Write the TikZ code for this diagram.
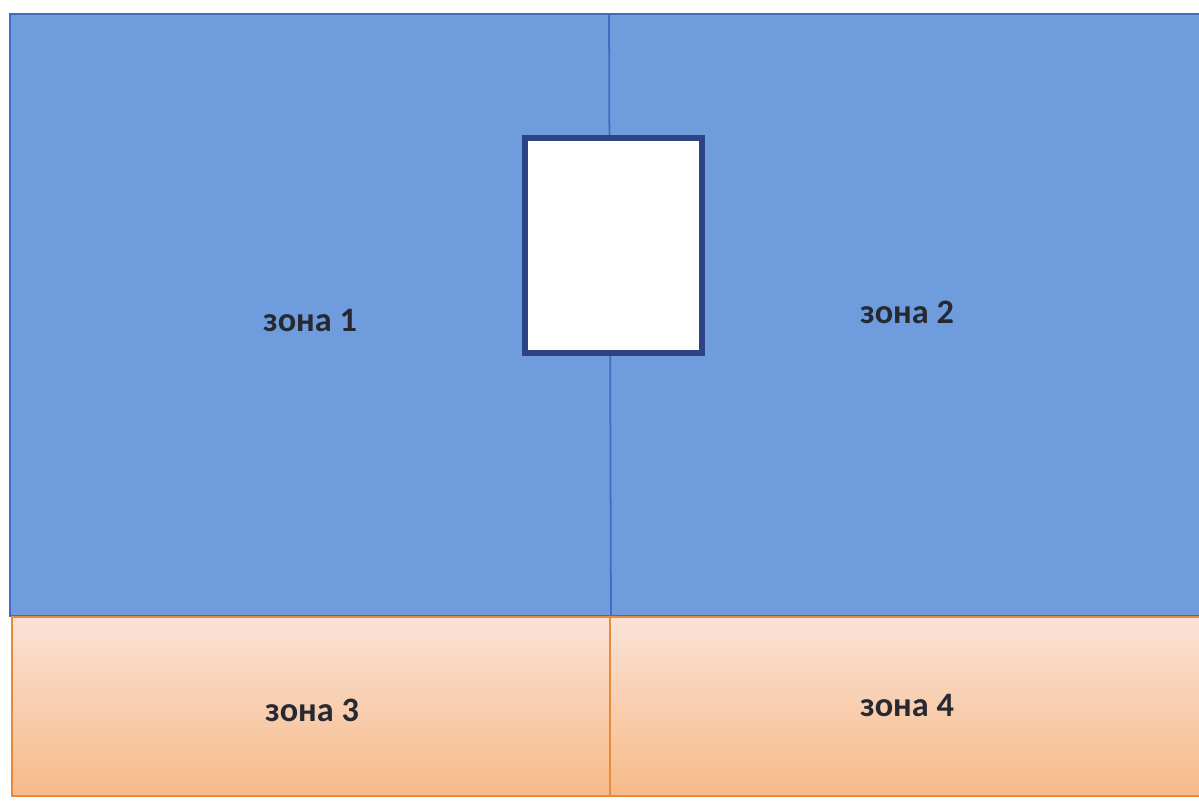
\documentclass[tikz,border=0pt]{standalone}
\usepackage{fontspec}
\setmainfont{Carlito}
\usepackage{tikz}
\usetikzlibrary{positioning}
\usepackage{xcolor}
\definecolor{zoneblue}{RGB}{110,156,220}
\definecolor{blueedge}{RGB}{66,106,190}
\definecolor{boxedge}{RGB}{44,68,132}
\definecolor{peachtop}{RGB}{250,226,214}
\definecolor{peachbot}{RGB}{246,186,136}
\definecolor{orangeedge}{RGB}{232,138,58}
\definecolor{labeltext}{RGB}{38,40,50}

\tikzset{
  zonelabel/.style={font=\fontsize{19.5}{22}\selectfont\bfseries, text=labeltext},
}

\begin{document}
\begin{tikzpicture}[x=0.02cm, y=-0.02cm]
  \useasboundingbox (0,0) rectangle (1199,801);
  \fill[white] (0,0) rectangle (1199,801);
  % blue zones
  \fill[zoneblue] (10,14) rectangle (1199,616);
  \draw[blueedge, line width=1.6pt] (1199,14) -- (10,14) -- (10,616) -- (1199,616);
  \draw[blueedge, line width=1pt] (609,14) -- (611,616);
  % orange zones
  \shade[top color=peachtop, bottom color=peachbot] (12,617) rectangle (1199,796);
  \draw[orangeedge, line width=1.2pt] (1199,617) -- (12,617) -- (12,796) -- (1199,796);
  \draw[orangeedge, line width=1.4pt] (610,617) -- (610,796);
  % white box on the divider
  \draw[boxedge, line width=3pt, fill=white] (525,138) rectangle (702,353);
  % labels
  \node[zonelabel] (z1) at (310,320) {зона 1};
  \node[zonelabel] (z2) at (907,312) {зона 2};
  \node[zonelabel] (z3) at (312,710) {зона 3};
  \node[zonelabel] (z4) at (907,705) {зона 4};
\end{tikzpicture}
\end{document}
